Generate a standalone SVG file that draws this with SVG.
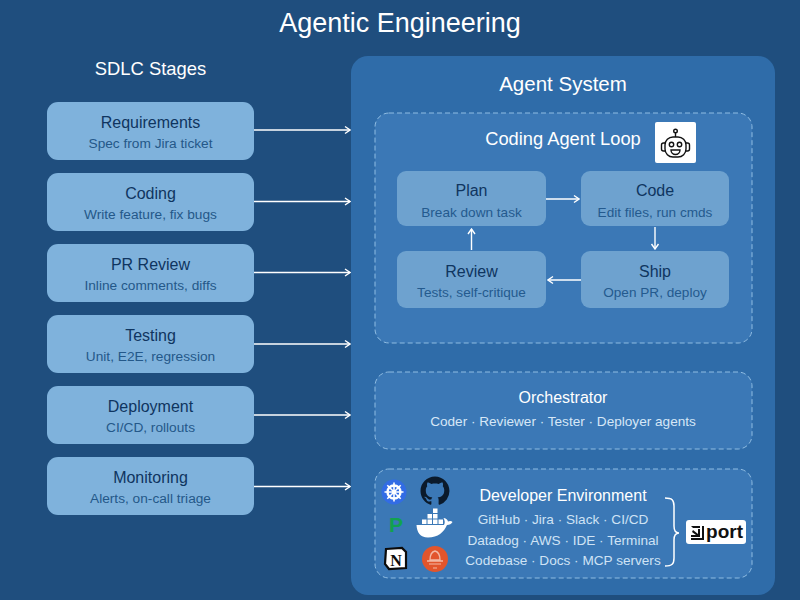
<svg xmlns="http://www.w3.org/2000/svg" width="800" height="600" viewBox="0 0 800 600">
<style>
text{font-family:"Liberation Sans",Arial,sans-serif;text-anchor:middle}
.stage{fill:#7fb2dc}
.inner{fill:#6ea2cf}
.t{font-size:16px;fill:#0f3560}
.s{font-size:13.7px;fill:#245889}
.is{font-size:13.6px;fill:#245a8e}
.h{fill:#fff}
.dash{fill:#3b78b6;stroke:#8fbce2;stroke-width:1;stroke-dasharray:5 3}
.env{font-size:13.6px;fill:#cfe3f5}
.conn{fill:none;stroke:#fff;stroke-width:1.4;marker-end:url(#a)}
</style>
<defs>
<marker id="a" viewBox="0 0 8 10" refX="7" refY="5" markerWidth="8" markerHeight="10" markerUnits="userSpaceOnUse" orient="auto"><path d="M2 1.500L7 5L2 8.500" fill="none" stroke="#fff" stroke-width="1.400"/></marker>
</defs>
<rect width="800" height="600" fill="#1f4e7e"/>
<text x="400" y="32" font-size="27" class="h">Agentic Engineering</text>
<text x="150.500" y="75" font-size="18.400" class="h">SDLC Stages</text>
<g id="agent-system">
<rect x="351" y="56" width="424" height="539" rx="17" fill="#2f6ca9"/>
<text x="563" y="91" font-size="20.500" class="h">Agent System</text>
</g>
<g id="requirements"><rect class="stage" x="47" y="102" width="207" height="58" rx="11"/><text class="t" x="150.500" y="127.500">Requirements</text><text class="s" x="150.500" y="148">Spec from Jira ticket</text></g>
<g id="coding"><rect class="stage" x="47" y="173" width="207" height="58" rx="11"/><text class="t" x="150.500" y="198.500">Coding</text><text class="s" x="150.500" y="219">Write feature, fix bugs</text></g>
<g id="pr-review"><rect class="stage" x="47" y="244" width="207" height="58" rx="11"/><text class="t" x="150.500" y="269.500">PR Review</text><text class="s" x="150.500" y="290">Inline comments, diffs</text></g>
<g id="testing"><rect class="stage" x="47" y="315" width="207" height="58" rx="11"/><text class="t" x="150.500" y="340.500">Testing</text><text class="s" x="150.500" y="361">Unit, E2E, regression</text></g>
<g id="deployment"><rect class="stage" x="47" y="386" width="207" height="58" rx="11"/><text class="t" x="150.500" y="411.500">Deployment</text><text class="s" x="150.500" y="432">CI/CD, rollouts</text></g>
<g id="monitoring"><rect class="stage" x="47" y="457" width="207" height="58" rx="11"/><text class="t" x="150.500" y="482.500">Monitoring</text><text class="s" x="150.500" y="503">Alerts, on-call triage</text></g>
<g id="coding-agent-loop">
<rect class="dash" x="375" y="113" width="377" height="230" rx="14"/>
<text x="563" y="145" font-size="18.300" class="h">Coding Agent Loop</text>
<rect x="655" y="122" width="41" height="41" rx="2" fill="#fff"/>
<g fill="none" stroke="#111" stroke-width="1.400">
<circle cx="675.500" cy="131" r="1.800"/><path d="M675.500 133V137"/>
<rect x="665" y="137" width="21" height="20" rx="8"/>
<path d="M665 143h-1.500a2 2 0 0 0-2 2v4a2 2 0 0 0 2 2H665M686 143h1.500a2 2 0 0 1 2 2v4a2 2 0 0 1-2 2H686"/>
<circle cx="671.500" cy="144.500" r="2.200"/><circle cx="679.500" cy="144.500" r="2.200"/>
<path d="M671 150h9a4.500 4.500 0 0 1-9 0Z"/>
</g>
</g>
<g id="plan"><rect class="inner" x="397" y="171" width="149" height="55" rx="9"/><text class="t" x="471.500" y="196">Plan</text><text class="is" x="471.500" y="217">Break down task</text></g>
<g id="code"><rect class="inner" x="581" y="171" width="148" height="55" rx="9"/><text class="t" x="655" y="196">Code</text><text class="is" x="655" y="217">Edit files, run cmds</text></g>
<g id="review"><rect class="inner" x="397" y="251" width="149" height="57" rx="9"/><text class="t" x="471.500" y="276.500">Review</text><text class="is" x="471.500" y="297">Tests, self-critique</text></g>
<g id="ship"><rect class="inner" x="581" y="251" width="148" height="57" rx="9"/><text class="t" x="655" y="276.500">Ship</text><text class="is" x="655" y="297">Open PR, deploy</text></g>
<g id="orchestrator">
<rect class="dash" x="375" y="372" width="377" height="77" rx="14"/>
<text x="563" y="403" font-size="16" class="h">Orchestrator</text>
<text x="563" y="426" font-size="13.600" fill="#d6e7f6">Coder · Reviewer · Tester · Deployer agents</text>
</g>
<g id="developer-environment">
<rect class="dash" x="375" y="469" width="377" height="109" rx="14"/>
<text x="563" y="501" font-size="16" class="h">Developer Environment</text>
<text class="env" x="563" y="524">GitHub · Jira · Slack · CI/CD</text>
<text class="env" x="563" y="545">Datadog · AWS · IDE · Terminal</text>
<text class="env" x="563" y="565">Codebase · Docs · MCP servers</text>
<path d="M665 498c7 0 9 2 9 8v20c0 5 2 7 5 7c-3 0-5 2-5 7v18c0 6-2 8-9 8" fill="none" stroke="#fff" stroke-width="1.500"/>
</g>
<g id="port-logo">
<rect x="686" y="520" width="60" height="24" rx="3" fill="#fff"/>
<path d="M691 526h9v2h-7zM693 530l5 4v-5h2v8h-9v-2h5l-4-3zM691 538h11V526h2v14h-13z" fill="#111"/>
<text x="724.500" y="538" font-size="19" font-weight="bold" fill="#111">port</text>
</g>
<g id="kubernetes-icon">
<circle cx="394" cy="492" r="12.500" fill="#326ce5"/>
<circle cx="394" cy="492" r="6.500" fill="none" stroke="#fff" stroke-width="2.400"/>
<path d="M394 482.500V501.500M384.500 492H403.500M387.300 485.300L400.700 498.700M400.700 485.300L387.300 498.700" stroke="#fff" stroke-width="1.600"/>
</g>
<g id="github-icon">
<path transform="translate(420.500 476.500) scale(1.810)" fill="#0b1a2b" d="M8 0C3.58 0 0 3.58 0 8c0 3.54 2.29 6.53 5.47 7.59.4.07.55-.17.55-.38 0-.19-.01-.82-.01-1.490-2.010.37-2.530-.49-2.690-.94-.09-.23-.48-.94-.82-1.130-.28-.15-.68-.52-.01-.53.63-.01 1.080.58 1.230.82.72 1.210 1.870.87 2.330.66.07-.52.28-.87.51-1.070-1.780-.2-3.640-.89-3.640-3.950 0-.87.31-1.590.82-2.150-.08-.2-.36-1.020.08-2.120 0 0 .67-.21 2.200.82.64-.18 1.320-.27 2-.27.68 0 1.360.09 2 .27 1.530-1.040 2.200-.82 2.200-.82.44 1.100.16 1.920.08 2.120.51.56.82 1.270.82 2.150 0 3.070-1.870 3.750-3.650 3.950.29.25.54.73.54 1.480 0 1.070-.01 1.930-.01 2.200 0 .21.15.46.55.38A8.013 8.013 0 0016 8c0-4.420-3.580-8-8-8z"/>
</g>
<g id="pagerduty-icon"><text x="396" y="532" font-size="21" font-weight="bold" fill="#12a150">P</text></g>
<g id="docker-icon">
<path d="M417 525H444c1.500-3 .5-5-.5-7c2 0 4 1.500 4.500 3.500c1.500-.8 3.500-.8 4.500.5c-1 2-3 3-5.500 3c-3 7-9 12.500-19 12.500c-8 0-11-5-11.500-12.500Z" fill="#fff"/>
<path d="M422 519.500h4.500v4.500H422zM427.500 519.500h4.500v4.500h-4.500zM433 519.500h4.500v4.500H433zM438.500 519.500h4.500v4.500h-4.500zM427.500 514h4.500v4.500h-4.500zM433 514h4.500v4.500H433zM433 508.500h4.500v4.500H433z" fill="#fff"/>
</g>
<g id="notion-icon">
<path d="M386 549l16-1l4 4v16l-17 1l-4-5z" fill="#fff" stroke="#0b0b0b" stroke-width="2.200"/>
<text x="396" y="566" font-size="16" font-weight="bold" fill="#0b0b0b" style="font-family:'Liberation Serif',serif">N</text>
</g>
<g id="gitlab-icon">
<circle cx="435" cy="559" r="13" fill="#e2552c"/>
<path d="M435 551c-4 1-5 5-5 9h10c0-4-1-8-5-9ZM427 561h16" fill="none" stroke="#f3b9a4" stroke-width="1.300"/>
<path d="M429 564h12M433 568h4" stroke="#f3b9a4" stroke-width="1.200"/>
</g>
<g id="connectors">
<path class="conn" d="M254 130H350"/>
<path class="conn" d="M254 201.500H350"/>
<path class="conn" d="M254 272.500H350"/>
<path class="conn" d="M254 344H350"/>
<path class="conn" d="M254 415H350"/>
<path class="conn" d="M254 486.500H350"/>
<path class="conn" d="M546 199H579"/>
<path class="conn" d="M655 227V249"/>
<path class="conn" d="M581 280H548"/>
<path class="conn" d="M471.500 250V229"/>
</g>
</svg>
